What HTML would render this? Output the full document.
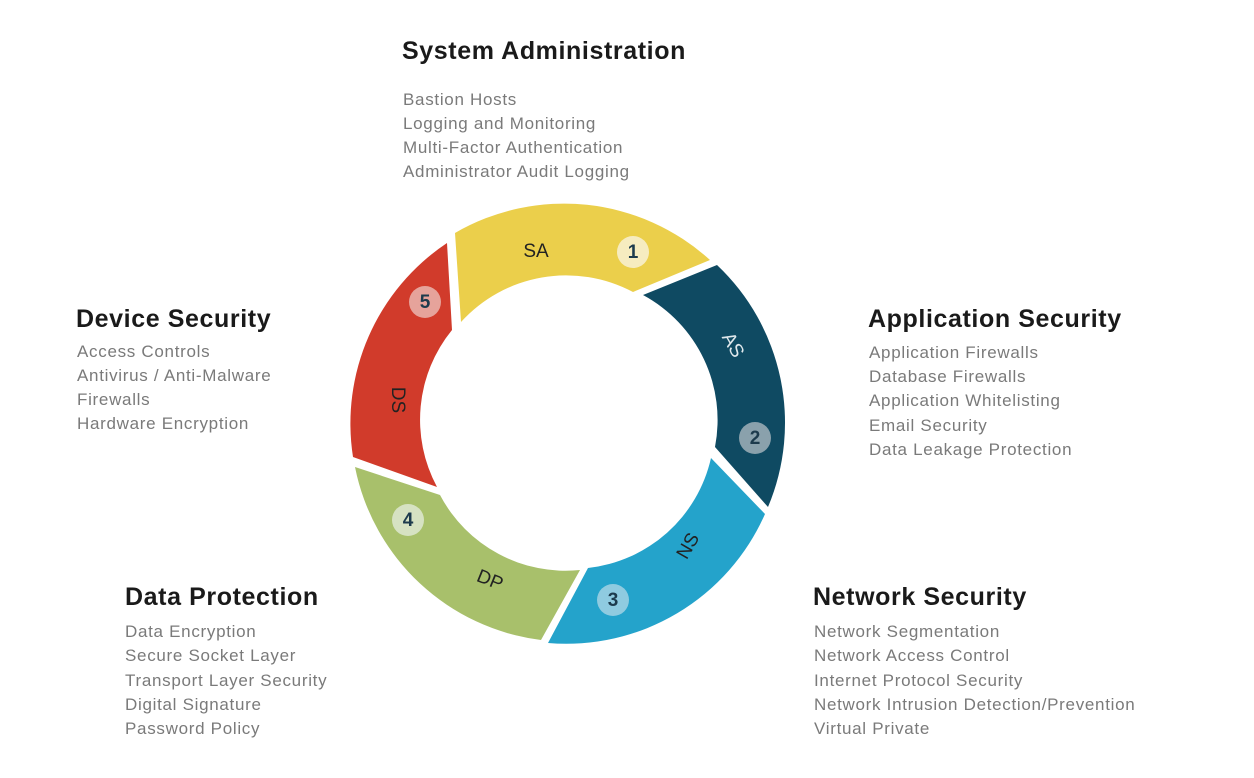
<!DOCTYPE html>
<html><head><meta charset="utf-8"><style>
html,body{margin:0;padding:0;background:#fff}
svg{display:block}
.t{font-family:"Liberation Sans",sans-serif;font-weight:bold;font-size:25px;letter-spacing:0.6px;fill:#1a1a1a}
.i{font-family:"Liberation Sans",sans-serif;font-size:17px;letter-spacing:0.7px;fill:#7a7a7a}
.l{font-family:"Liberation Sans",sans-serif;font-size:19px;fill:#222}
.n{font-family:"Liberation Sans",sans-serif;font-size:19px;font-weight:bold;fill:#1d3b4d}
</style></head><body>
<svg width="1254" height="778" viewBox="0 0 1254 778" xmlns="http://www.w3.org/2000/svg">
<path d="M455,233 A217,217 0 0 1 710,260 L633,292 A142,142 0 0 0 461,322 Z" fill="#ebcf4b"/>
<path d="M717,265 A217,217 0 0 1 768,507 L715,447 A142,142 0 0 0 643,295 Z" fill="#0f4a62"/>
<path d="M765,514 A217,217 0 0 1 548,643 L588,568 A142,142 0 0 0 711,458 Z" fill="#24a3cb"/>
<path d="M541,640 A217,217 0 0 1 355,467 L440,495 A142,142 0 0 0 580,570 Z" fill="#a8c06b"/>
<path d="M353,457 A217,217 0 0 1 447,243 L452,330 A142,142 0 0 0 437,487 Z" fill="#d13b2b"/>

<circle cx="633" cy="252" r="16" fill="#f6ecc0"/>
<circle cx="755" cy="438" r="16" fill="#8aa1ac"/>
<circle cx="613" cy="600" r="16" fill="#8fcbe0"/>
<circle cx="408" cy="520" r="16" fill="#d6e2c2"/>
<circle cx="425" cy="302" r="16" fill="#e6a39b"/>
<text class="n" x="633" y="258" text-anchor="middle">1</text>
<text class="n" x="755" y="444" text-anchor="middle">2</text>
<text class="n" x="613" y="606" text-anchor="middle">3</text>
<text class="n" x="408" y="526" text-anchor="middle">4</text>
<text class="n" x="425" y="308" text-anchor="middle">5</text>

<text class="l" x="536" y="257" text-anchor="middle">SA</text>
<text class="l" transform="translate(733,345) rotate(60)" text-anchor="middle" y="6" style="fill:#dfe8ec">AS</text>
<text class="l" transform="translate(688,546) rotate(-60)" text-anchor="middle" y="6">NS</text>
<text class="l" transform="translate(490,580) rotate(22)" text-anchor="middle" y="6">DP</text>
<text class="l" transform="translate(398,400) rotate(90)" text-anchor="middle" y="6">DS</text>

<text class="t" x="402" y="59">System Administration</text>
<text class="i" x="403" y="105">Bastion Hosts</text>
<text class="i" x="403" y="129">Logging and Monitoring</text>
<text class="i" x="403" y="153">Multi-Factor Authentication</text>
<text class="i" x="403" y="177">Administrator Audit Logging</text>

<text class="t" x="76" y="327">Device Security</text>
<text class="i" x="77" y="357">Access Controls</text>
<text class="i" x="77" y="381">Antivirus / Anti-Malware</text>
<text class="i" x="77" y="405">Firewalls</text>
<text class="i" x="77" y="429">Hardware Encryption</text>

<text class="t" x="868" y="327">Application Security</text>
<text class="i" x="869" y="358">Application Firewalls</text>
<text class="i" x="869" y="382">Database Firewalls</text>
<text class="i" x="869" y="406">Application Whitelisting</text>
<text class="i" x="869" y="431">Email Security</text>
<text class="i" x="869" y="455">Data Leakage Protection</text>

<text class="t" x="125" y="605">Data Protection</text>
<text class="i" x="125" y="637">Data Encryption</text>
<text class="i" x="125" y="661">Secure Socket Layer</text>
<text class="i" x="125" y="686">Transport Layer Security</text>
<text class="i" x="125" y="710">Digital Signature</text>
<text class="i" x="125" y="734">Password Policy</text>

<text class="t" x="813" y="605">Network Security</text>
<text class="i" x="814" y="637">Network Segmentation</text>
<text class="i" x="814" y="661">Network Access Control</text>
<text class="i" x="814" y="686">Internet Protocol Security</text>
<text class="i" x="814" y="710">Network Intrusion Detection/Prevention</text>
<text class="i" x="814" y="734">Virtual Private</text>
</svg>
</body></html>
